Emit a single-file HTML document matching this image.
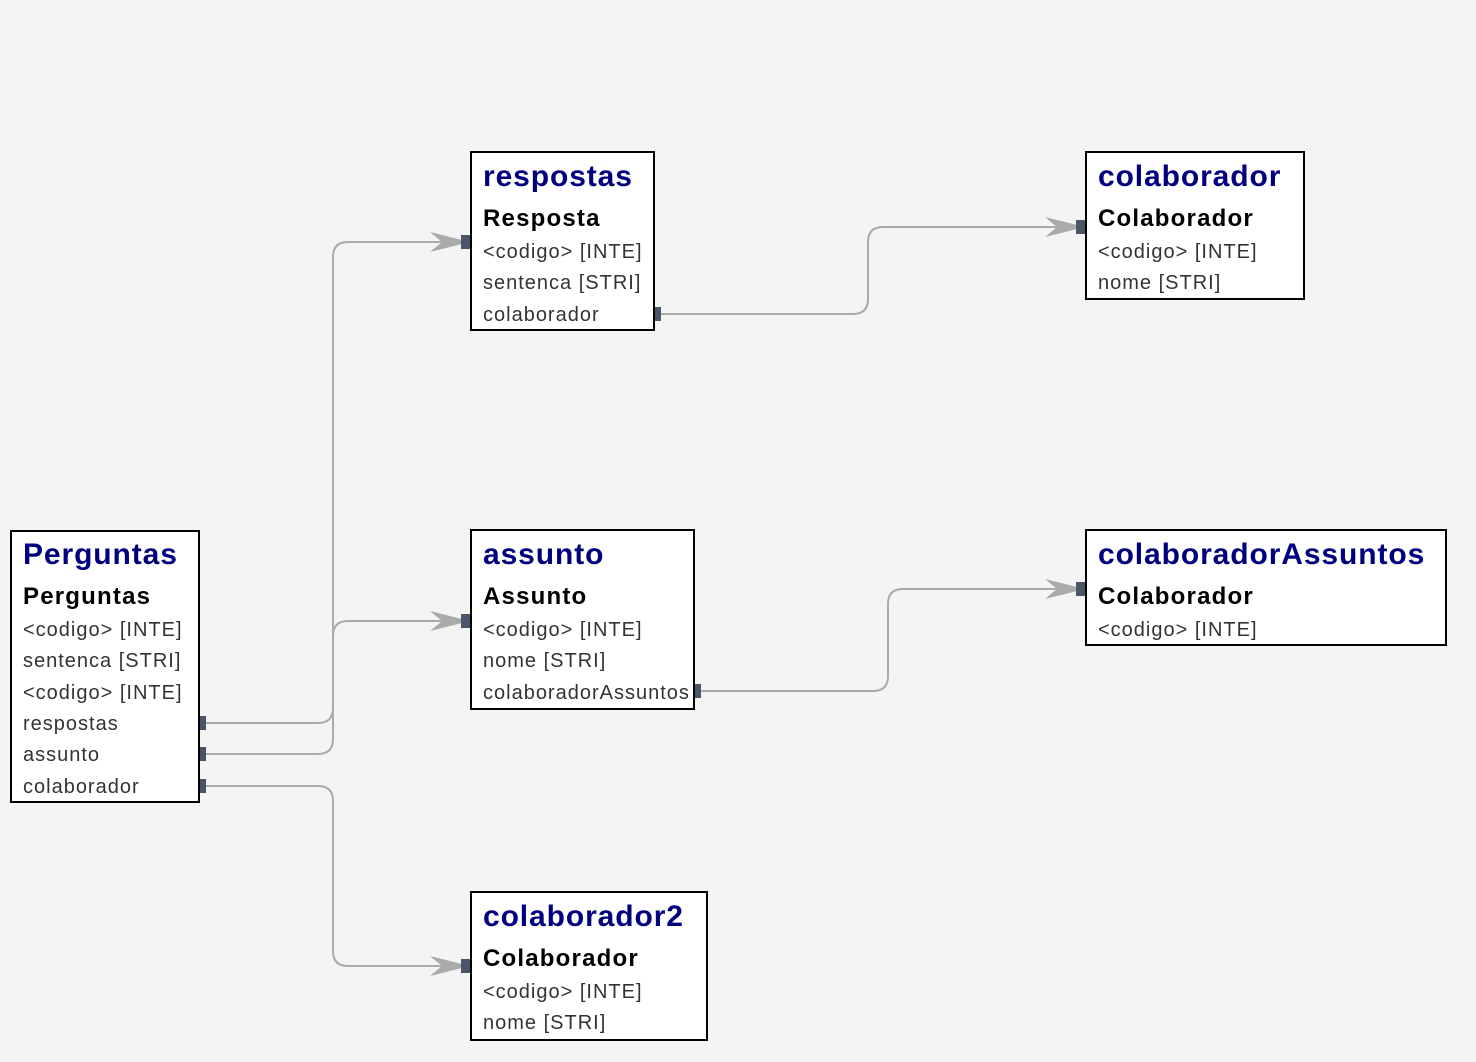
<!DOCTYPE html>
<html><head><meta charset="utf-8"><style>
body{margin:0;width:1476px;height:1062px;background:#f4f4f4;position:relative;overflow:hidden;font-family:"Liberation Sans",sans-serif}
.b{position:absolute;background:#fff;border:2px solid #000;box-sizing:border-box}
.t{position:absolute;left:11px;white-space:nowrap}
.h{color:#00007f;font-weight:bold;font-size:30px;line-height:36px;letter-spacing:0.9px}
.s{color:#000;font-weight:bold;font-size:24px;line-height:30px;letter-spacing:1.2px}
.r{color:#333;font-size:20px;line-height:24px;letter-spacing:1px}
svg{position:absolute;left:0;top:0}
</style></head><body>
<svg width="1476" height="1062">
<g fill="none" stroke="#aaa" stroke-width="2">
<path d="M200 723 H318 Q333 723 333 708 V257 Q333 242 348 242 H462"/>
<path d="M200 754 H318 Q333 754 333 739 V636 Q333 621 348 621 H462"/>
<path d="M200 786 H318 Q333 786 333 801 V951 Q333 966 348 966 H462"/>
<path d="M655 314 H853 Q868 314 868 299 V242 Q868 227 883 227 H1077"/>
<path d="M695 691 H873 Q888 691 888 676 V604 Q888 589 903 589 H1077"/>
</g>
<g fill="#aaa">
<path d="M430 232 L470 242 L430 252 L442 242 Z"/>
<path d="M430 611 L470 621 L430 631 L442 621 Z"/>
<path d="M430 956 L470 966 L430 976 L442 966 Z"/>
<path d="M1045 217 L1085 227 L1045 237 L1057 227 Z"/>
<path d="M1045 579 L1085 589 L1045 599 L1057 589 Z"/>
</g>
<g fill="#4a5568">
<rect x="461" y="235" width="9" height="14"/>
<rect x="461" y="614" width="9" height="14"/>
<rect x="461" y="959" width="9" height="14"/>
<rect x="1076" y="220" width="9" height="14"/>
<rect x="1076" y="582" width="9" height="14"/>
<rect x="199" y="716" width="7" height="14"/>
<rect x="199" y="747" width="7" height="14"/>
<rect x="199" y="779" width="7" height="14"/>
<rect x="654" y="307" width="7" height="14"/>
<rect x="694" y="684" width="7" height="14"/>
</g>
</svg>

<div class="b" style="left:10px;top:530px;width:190px;height:273px">
<div class="t h" style="top:5px">Perguntas</div>
<div class="t s" style="top:50px">Perguntas</div>
<div class="t r" style="top:86px">&lt;codigo&gt; [INTE]</div>
<div class="t r" style="top:117px">sentenca [STRI]</div>
<div class="t r" style="top:149px">&lt;codigo&gt; [INTE]</div>
<div class="t r" style="top:180px">respostas</div>
<div class="t r" style="top:211px">assunto</div>
<div class="t r" style="top:243px">colaborador</div>
</div>

<div class="b" style="left:470px;top:151px;width:185px;height:180px">
<div class="t h" style="top:6px">respostas</div>
<div class="t s" style="top:51px">Resposta</div>
<div class="t r" style="top:87px">&lt;codigo&gt; [INTE]</div>
<div class="t r" style="top:118px">sentenca [STRI]</div>
<div class="t r" style="top:150px">colaborador</div>
</div>

<div class="b" style="left:1085px;top:151px;width:220px;height:149px">
<div class="t h" style="top:6px">colaborador</div>
<div class="t s" style="top:51px">Colaborador</div>
<div class="t r" style="top:87px">&lt;codigo&gt; [INTE]</div>
<div class="t r" style="top:118px">nome [STRI]</div>
</div>

<div class="b" style="left:470px;top:529px;width:225px;height:181px">
<div class="t h" style="top:6px">assunto</div>
<div class="t s" style="top:51px">Assunto</div>
<div class="t r" style="top:87px">&lt;codigo&gt; [INTE]</div>
<div class="t r" style="top:118px">nome [STRI]</div>
<div class="t r" style="top:150px">colaboradorAssuntos</div>
</div>

<div class="b" style="left:1085px;top:529px;width:362px;height:117px">
<div class="t h" style="top:6px">colaboradorAssuntos</div>
<div class="t s" style="top:51px">Colaborador</div>
<div class="t r" style="top:87px">&lt;codigo&gt; [INTE]</div>
</div>

<div class="b" style="left:470px;top:891px;width:238px;height:150px">
<div class="t h" style="top:6px">colaborador2</div>
<div class="t s" style="top:51px">Colaborador</div>
<div class="t r" style="top:87px">&lt;codigo&gt; [INTE]</div>
<div class="t r" style="top:118px">nome [STRI]</div>
</div>
</body></html>
